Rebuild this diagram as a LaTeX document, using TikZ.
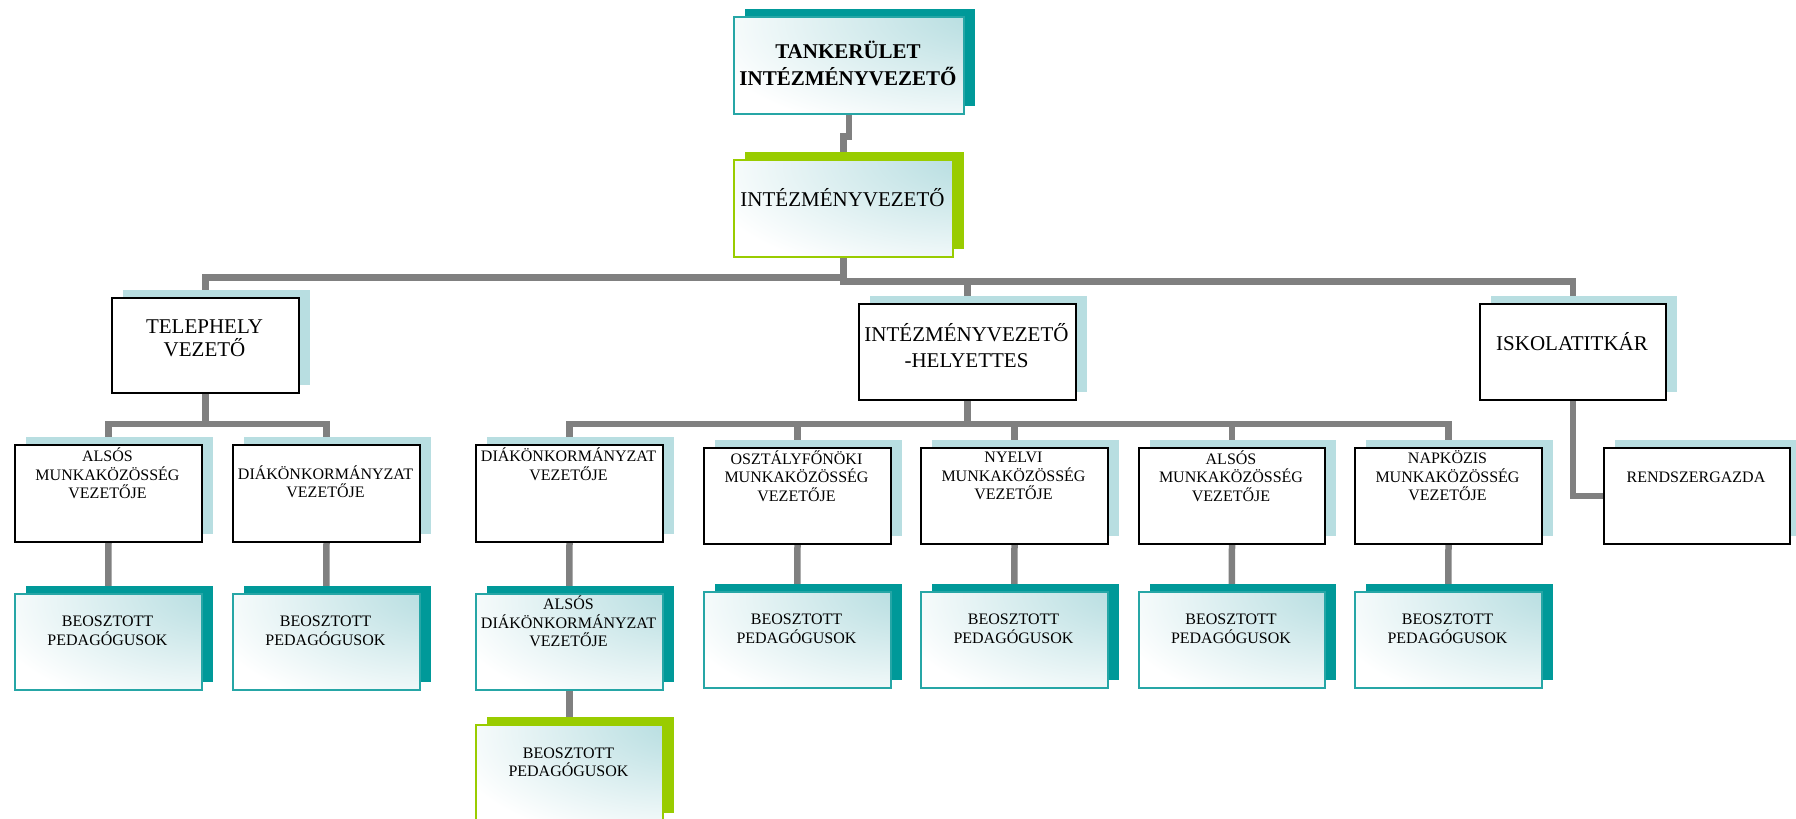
\documentclass[tikz,border=0pt]{standalone}
\usepackage{fontspec}
\setmainfont{Liberation Serif}
\usetikzlibrary{shadows,calc}
\definecolor{connc}{RGB}{128,128,128}
\definecolor{lshad}{RGB}{184,222,225}
\definecolor{tealc}{RGB}{0,153,153}
\definecolor{tealb}{RGB}{38,166,166}
\definecolor{greenc}{RGB}{153,204,0}
\definecolor{glowc}{RGB}{184,222,225}
\pgfdeclareradialshading{glow}{\pgfpoint{36bp}{30bp}}{color(0bp)=(glowc); color(8bp)=(glowc); color(56bp)=(white); color(160bp)=(white)}
\pgfdeclarelayer{bg}
\pgfsetlayers{bg,main}
\tikzset{
  conn/.style={draw=connc, line width=6.5pt},
  plainbox/.style={draw=black, line width=2pt, fill=white, anchor=north west,
    general shadow={fill=lshad, shadow xshift=11pt, shadow yshift=8pt}},
  tealbox/.style={draw=tealb, line width=1.6pt, shade, shading=glow, anchor=north west,
    general shadow={fill=tealc, shadow xshift=11pt, shadow yshift=8pt}},
  greenbox/.style={draw=greenc, line width=1.6pt, shade, shading=glow, anchor=north west,
    general shadow={fill=greenc, shadow xshift=11pt, shadow yshift=8pt}},
  small/.style={font=\fontsize{16}{18.5}\selectfont, align=center, inner sep=0pt},
  big/.style={font=\fontsize{21}{24}\selectfont, align=center, inner sep=0pt},
}
\begin{document}
\begin{tikzpicture}[x=1pt,y=-1pt]
\useasboundingbox (0,0) rectangle (1796,819);
% level 0/1
\node[tealbox, minimum width=230pt, minimum height=97pt] (t1) at (733,16) {};
\node[big, font=\fontsize{21}{27}\selectfont\bfseries] (t1t) at (848,63.5) {TANKERÜLET\\INTÉZMÉNYVEZETŐ};
\node[greenbox, minimum width=219pt, minimum height=97pt] (t2) at (733,159) {};
\node[big] (t2t) at (842.5,198) {INTÉZMÉNYVEZETŐ};
% level 2
\node[plainbox, minimum width=187pt, minimum height=95pt] (tele) at (111,297) {};
\node[big, font=\fontsize{21}{23}\selectfont] (telet) at (204.5,338.5) {TELEPHELY\\VEZETŐ};
\node[plainbox, minimum width=217pt, minimum height=96pt] (hely) at (858,303) {};
\node[big, font=\fontsize{21}{26}\selectfont] (helyt) at (966.5,346) {INTÉZMÉNYVEZETŐ\\-HELYETTES};
\node[plainbox, minimum width=186pt, minimum height=96pt] (isk) at (1479,303) {};
\node[big] (iskt) at (1572,342) {ISKOLATITKÁR};
% level 3
\node[plainbox, minimum width=187pt, minimum height=97pt] (c1) at (14,444) {};
\node[small] (c1t) at (107.5,473.5) {ALSÓS\\MUNKAKÖZÖSSÉG\\VEZETŐJE};
\node[plainbox, minimum width=187pt, minimum height=97pt] (c2) at (232,444) {};
\node[small] (c2t) at (325.5,481.5) {DIÁKÖNKORMÁNYZAT\\VEZETŐJE};
\node[plainbox, minimum width=187pt, minimum height=97pt] (d1) at (475,444) {};
\node[small] (d1t) at (568.5,464) {DIÁKÖNKORMÁNYZAT\\VEZETŐJE};
\node[plainbox, minimum width=187pt, minimum height=96pt] (d2) at (703,447) {};
\node[small] (d2t) at (796.5,476) {OSZTÁLYFŐNÖKI\\MUNKAKÖZÖSSÉG\\VEZETŐJE};
\node[plainbox, minimum width=187pt, minimum height=96pt] (d3) at (920,447) {};
\node[small] (d3t) at (1013.5,476) {NYELVI\\MUNKAKÖZÖSSÉG\\VEZETŐJE};
\node[plainbox, minimum width=186pt, minimum height=96pt] (d4) at (1138,447) {};
\node[small] (d4t) at (1231,476) {ALSÓS\\MUNKAKÖZÖSSÉG\\VEZETŐJE};
\node[plainbox, minimum width=187pt, minimum height=96pt] (d5) at (1354,447) {};
\node[small] (d5t) at (1447.5,476) {NAPKÖZIS\\MUNKAKÖZÖSSÉG\\VEZETŐJE};
\node[plainbox, minimum width=186pt, minimum height=96pt] (rg) at (1603,447) {};
\node[small] (rgt) at (1696,477) {RENDSZERGAZDA};
% level 4
\node[tealbox, minimum width=187pt, minimum height=96pt] (e1) at (14,593) {};
\node[small] (e1t) at (107.5,631) {BEOSZTOTT\\PEDAGÓGUSOK};
\node[tealbox, minimum width=187pt, minimum height=96pt] (e2) at (232,593) {};
\node[small] (e2t) at (325.5,631) {BEOSZTOTT\\PEDAGÓGUSOK};
\node[tealbox, minimum width=187pt, minimum height=96pt] (e3) at (475,593) {};
\node[small] (e3t) at (568.5,621.5) {ALSÓS\\DIÁKÖNKORMÁNYZAT\\VEZETŐJE};
\node[tealbox, minimum width=187pt, minimum height=96pt] (e4) at (703,591) {};
\node[small] (e4t) at (796.5,629) {BEOSZTOTT\\PEDAGÓGUSOK};
\node[tealbox, minimum width=187pt, minimum height=96pt] (e5) at (920,591) {};
\node[small] (e5t) at (1013.5,629) {BEOSZTOTT\\PEDAGÓGUSOK};
\node[tealbox, minimum width=186pt, minimum height=96pt] (e6) at (1138,591) {};
\node[small] (e6t) at (1231,629) {BEOSZTOTT\\PEDAGÓGUSOK};
\node[tealbox, minimum width=187pt, minimum height=96pt] (e7) at (1354,591) {};
\node[small] (e7t) at (1447.5,629) {BEOSZTOTT\\PEDAGÓGUSOK};
% level 5
\node[greenbox, minimum width=187pt, minimum height=96pt] (f1) at (475,724) {};
\node[small] (f1t) at (568.5,762.5) {BEOSZTOTT\\PEDAGÓGUSOK};
% connectors
\begin{pgfonlayer}{bg}
\draw[conn] (t1.south) -- ++(0,22) -| (t2.north);
\path (t2.south) ++(0,20) coordinate (hL) ++(0,4) coordinate (hR);
\draw[conn] (t2.south) -- (hR) -| (isk.north);
\draw[conn] (hL) -| (tele.north);
\draw[conn] (hely.north) |- (hR);
\draw[conn] (tele.south) -- ++(0,30) coordinate (j1);
\draw[conn] (c1.north) |- (j1) -| (c2.north);
\draw[conn] (hely.south) -- ++(0,23) coordinate (j2);
\draw[conn] (d1.north) |- (j2) -| (d5.north);
\foreach \n in {d2,d3,d4} \draw[conn] (\n.north) -- (\n.north |- j2);
\draw[conn] (isk.south) |- (rg.west);
\draw[conn] (c1.south) -- (e1.north);
\draw[conn] (c2.south) -- (e2.north);
\draw[conn] (d1.south) -- (e3.north);
\draw[conn] (d2.south) -- (e4.north);
\draw[conn] (d3.south) -- (e5.north);
\draw[conn] (d4.south) -- (e6.north);
\draw[conn] (d5.south) -- (e7.north);
\draw[conn] (e3.south) -- (f1.north);
\end{pgfonlayer}
\end{tikzpicture}
\end{document}
